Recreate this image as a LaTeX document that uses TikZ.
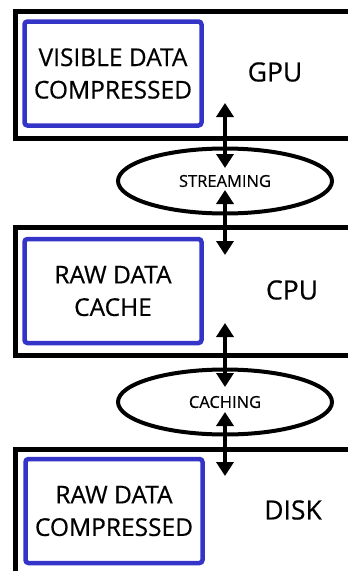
\documentclass[tikz,border=0pt]{standalone}
\usepackage{fontspec}
\setmainfont{Open Sans}[FakeBold=0.5]
\usetikzlibrary{arrows.meta,shapes.geometric}
\definecolor{inblue}{RGB}{52,52,200}
\begin{document}
\begin{tikzpicture}[x=1pt,y=-1pt,
  outerbox/.style={draw=black,line width=4.5pt},
  innerbox/.style={draw=inblue,line width=4.5pt,rounded corners=3pt,minimum width=177pt,minimum height=104pt,align=center,font=\fontsize{24.5}{32.5}\selectfont,inner sep=0pt},
  unitlabel/.style={font=\fontsize{26.5}{28}\selectfont,inner sep=0pt},
  stage/.style={draw=black,line width=4pt,ellipse,minimum width=214pt,minimum height=65pt,inner sep=0pt,font=\fontsize{16.5}{18}\selectfont},
  dbl/.style={line width=4.5pt,{Triangle[length=14pt,width=17pt]}-{Triangle[length=14pt,width=17pt]}}
]
\useasboundingbox (0,0) rectangle (348,571);
\begin{scope}
\clip (0,0) rectangle (348,571);
\node[outerbox,minimum width=360pt,minimum height=127pt,anchor=north west,inner sep=0pt] (gpu) at (13,9) {};
\node[outerbox,minimum width=360pt,minimum height=128pt,anchor=north west,inner sep=0pt] (cpu) at (13,225) {};
\node[outerbox,minimum width=360pt,minimum height=140pt,anchor=north west,inner sep=0pt] (disk) at (13,447) {};
\end{scope}
\node[innerbox] (vis) at (113,73.5) {VISIBLE DATA\\COMPRESSED};
\node[innerbox] (raw) at (113,291) {RAW DATA\\CACHE};
\node[innerbox] (rawc) at (114,511) {RAW DATA\\COMPRESSED};
\node[unitlabel] (gpul) at (275,72) {GPU};
\node[unitlabel] (cpul) at (292,290) {CPU};
\node[unitlabel] (diskl) at (293,510) {DISK};
\node[stage] (stream) at (225,181) {STREAMING};
\node[stage] (cache) at (225,402) {CACHING};
\coordinate (a1) at (225,103);
\coordinate (a2) at (225,168);
\coordinate (a3) at (225,190);
\coordinate (a4) at (225,255);
\coordinate (a5) at (225,323);
\coordinate (a6) at (225,387);
\coordinate (a7) at (225,412);
\coordinate (a8) at (225,476);
\draw[dbl] (a1) -- (a2);
\draw[dbl] (a3) -- (a4);
\draw[dbl] (a5) -- (a6);
\draw[dbl] (a7) -- (a8);
\end{tikzpicture}
\end{document}
